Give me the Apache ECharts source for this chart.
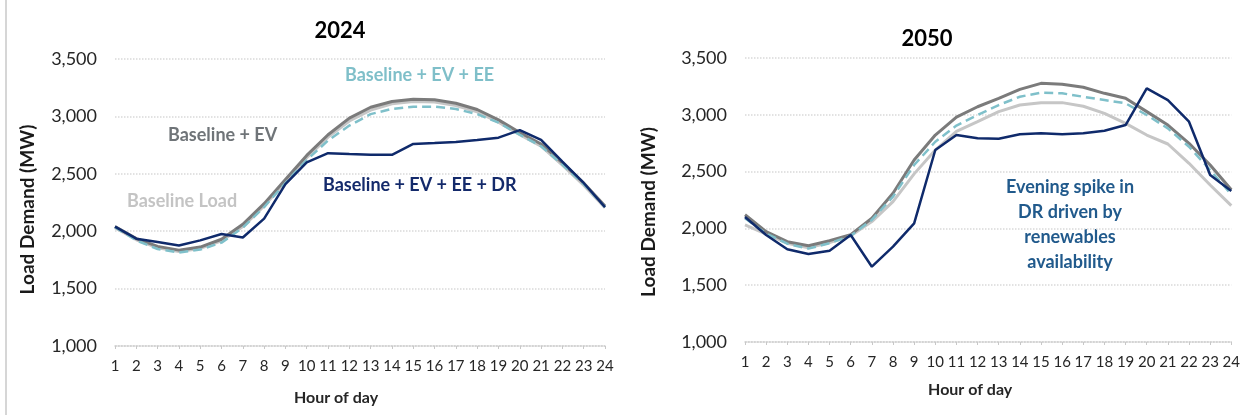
<!DOCTYPE html>
<html lang="en">
<head>
  <meta charset="UTF-8">
  <title>Hourly Load Demand 2024 vs 2050</title>
  <script src="https://cdn.jsdelivr.net/npm/echarts@6.0.0/dist/echarts.min.js"></script>
  <style>
    html, body, #main {
      margin: 0;
      padding: 0;
      width: 1243px;
      height: 415px;
      background: #fff;
    }
  </style>
</head>
<body>
  <div id="main"></div>

  <script>
    const hours = ['1','2','3','4','5','6','7','8','9','10','11','12','13','14','15','16','17','18','19','20','21','22','23','24'];
    const yTicks = [1000, 1500, 2000, 2500, 3000, 3500];

    // 2024 profiles (MW)
    const base2024   = [2030, 1925, 1855, 1822, 1850, 1915, 2040, 2220, 2430, 2640, 2820, 2960, 3055, 3110, 3130, 3125, 3095, 3040, 2950, 2840, 2740, 2575, 2400, 2205];
    const ev2024     = [2040, 1935, 1868, 1835, 1862, 1930, 2060, 2240, 2450, 2660, 2840, 2985, 3080, 3130, 3150, 3145, 3115, 3060, 2970, 2860, 2760, 2595, 2420, 2220];
    const evee2024   = [2035, 1920, 1845, 1815, 1840, 1900, 2030, 2210, 2420, 2620, 2790, 2920, 3020, 3065, 3085, 3085, 3065, 3020, 2945, 2840, 2740, 2580, 2410, 2210];
    const dr2024     = [2040, 1935, 1905, 1875, 1920, 1975, 1945, 2110, 2410, 2600, 2680, 2672, 2665, 2665, 2760, 2768, 2778, 2795, 2815, 2880, 2795, 2605, 2420, 2210];

    // 2050 profiles (MW)
    const base2050   = [2030, 1950, 1870, 1830, 1875, 1935, 2060, 2235, 2480, 2690, 2855, 2940, 3028, 3086, 3107, 3107, 3075, 3013, 2925, 2822, 2743, 2573, 2382, 2200];
    const ev2050     = [2120, 1971, 1883, 1848, 1892, 1945, 2089, 2309, 2602, 2822, 2980, 3071, 3145, 3224, 3277, 3268, 3242, 3189, 3145, 3028, 2910, 2749, 2558, 2340];
    const evee2050   = [2090, 1955, 1865, 1822, 1870, 1935, 2075, 2279, 2558, 2763, 2905, 2998, 3086, 3159, 3195, 3189, 3159, 3130, 3101, 2998, 2881, 2719, 2514, 2300];
    const dr2050     = [2100, 1942, 1816, 1775, 1804, 1942, 1663, 1839, 2045, 2690, 2822, 2793, 2790, 2828, 2837, 2828, 2837, 2860, 2910, 3233, 3130, 2939, 2470, 2330];

    const C_BASE = '#c6c6c6';
    const C_EV = '#7b7b7b';
    const C_EVEE = '#7fc0ca';
    const C_DR = '#0f2a6b';
    const FONT = 'Lato, "Open Sans", sans-serif';

    const fmt = v => v.toLocaleString('en-US');

    function xAxis(idx, gap, pad) {
      return {
        gridIndex: idx,
        type: 'category',
        boundaryGap: false,
        data: hours,
        name: 'Hour of day',
        nameLocation: 'middle',
        nameGap: gap,
        nameTextStyle: { fontFamily: FONT, fontWeight: 'bold', fontSize: 16, color: '#262626', padding: pad },
        axisLine: { lineStyle: { color: '#d0d0d0', type: 'dotted', width: 1.5 } },
        axisTick: { show: true, length: 3, lineStyle: { color: '#c8c8c8' } },
        axisLabel: { fontFamily: FONT, fontSize: 15, color: '#262626', margin: 13, interval: 0 }
      };
    }

    function yAxis(idx, gap, pad) {
      return {
        gridIndex: idx,
        type: 'value',
        min: yTicks[0],
        max: yTicks[yTicks.length - 1],
        interval: 500,
        name: 'Load Demand (MW)',
        nameLocation: 'middle',
        nameRotate: 90,
        nameGap: gap,
        nameTextStyle: { fontFamily: FONT, fontWeight: 'bold', fontSize: 19, color: '#1a1a1a', padding: pad },
        axisLine: { show: false },
        axisTick: { show: false },
        axisLabel: { fontFamily: FONT, fontSize: 18, color: '#262626', margin: 18, formatter: fmt },
        splitLine: { lineStyle: { color: '#d9d9d9', type: 'dotted', width: 1.5 } }
      };
    }

    function line(name, data, color, idx, dashed, width) {
      return {
        name: name,
        type: 'line',
        xAxisIndex: idx,
        yAxisIndex: idx,
        data: data,
        symbol: 'none',
        lineStyle: { color: color, width: width, type: dashed ? [9, 5] : 'solid' },
        itemStyle: { color: color },
        animation: false
      };
    }

    function note(text, x, y, color, align) {
      return {
        type: 'text',
        x: x,
        y: y,
        style: {
          text: text,
          fill: color,
          font: 'bold 18px ' + FONT,
          align: align || 'left',
          verticalAlign: 'top',
          lineHeight: 25
        }
      };
    }

    const chart = echarts.init(document.getElementById('main'), null, { renderer: 'canvas' });
    chart.setOption({
      backgroundColor: '#fff',
      animation: false,
      title: [
        { text: '2024', left: 335, top: 15, textAlign: 'center', textStyle: { fontFamily: FONT, fontWeight: 'bold', fontSize: 22, color: '#000' } },
        { text: '2050', left: 922, top: 23, textAlign: 'center', textStyle: { fontFamily: FONT, fontWeight: 'bold', fontSize: 22, color: '#000' } }
      ],
      grid: [
        { left: 115, right: 638, top: 59, bottom: 69 },
        { left: 745, right: 11, top: 58, bottom: 73 }
      ],
      xAxis: [xAxis(0, 44, [0, 48, 0, 0]), xAxis(1, 40, [0, 36, 0, 0])],
      yAxis: [yAxis(0, 78, [0, 14, 0, 0]), yAxis(1, 87, [0, 24, 0, 0])],
      series: [
        line('Baseline Load', base2024, C_BASE, 0, false, 3),
        line('Baseline + EV', ev2024, C_EV, 0, false, 3),
        line('Baseline + EV + EE', evee2024, C_EVEE, 0, true, 2.5),
        line('Baseline + EV + EE + DR', dr2024, C_DR, 0, false, 2.5),
        line('Baseline Load', base2050, C_BASE, 1, false, 3),
        line('Baseline + EV', ev2050, C_EV, 1, false, 3),
        line('Baseline + EV + EE', evee2050, C_EVEE, 1, true, 2.5),
        line('Baseline + EV + EE + DR', dr2050, C_DR, 1, false, 2.5)
      ],
      graphic: [
        { type: 'line', shape: { x1: 6, y1: 0, x2: 6, y2: 415 }, style: { stroke: '#c8c8c8', lineWidth: 1.5 } },
        note('Baseline + EV + EE', 345, 63, '#7fbfc9'),
        note('Baseline + EV', 168, 123, '#6f7478'),
        note('Baseline Load', 127, 189, '#c4c4c4'),
        note('Baseline + EV + EE + DR', 323, 173, '#142a6b'),
        note('Evening spike in\nDR driven by\nrenewables\navailability', 1070, 175, '#215a8c', 'center')
      ]
    });
  </script>
</body>
</html>
